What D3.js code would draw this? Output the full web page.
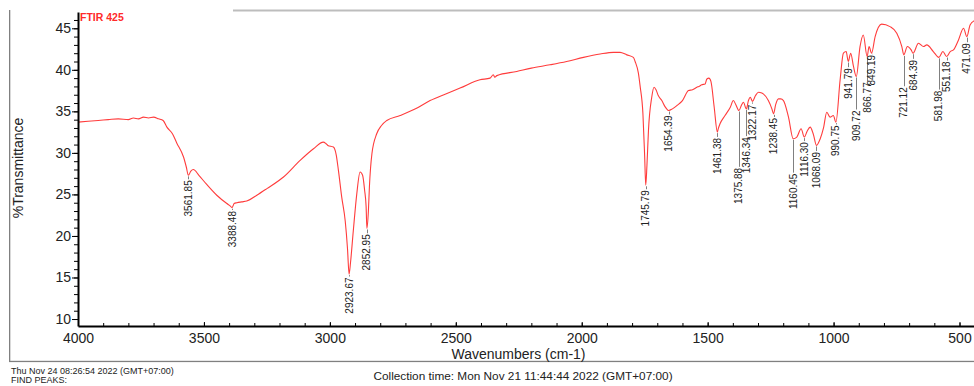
<!DOCTYPE html>
<html>
<head>
<meta charset="utf-8">
<script src="https://cdn.jsdelivr.net/npm/d3@7"></script>
<style>
  body { margin: 0; background: #fff; }
  svg { display: block; font-family: "Liberation Sans", Arial, sans-serif; }
  .axis path, .axis line { stroke: #000; }
  .axis text { fill: #222; font-size: 14px; }
  .peak-label { fill: #222; font-size: 10px; }
</style>
</head>
<body>
<div id="chart"></div>
<script>
// --- spectrum (wavenumber cm-1 / %T) ---
const wavenumbers = [
  4000, 3960, 3920, 3880, 3840, 3800, 3780, 3760, 3740, 3720, 3700, 3680, 3662, 3647, 3625, 3608,
  3581, 3570, 3561.85, 3552, 3542, 3520, 3489, 3449, 3409, 3395, 3388.48, 3380, 3369, 3350, 3330,
  3290, 3250, 3184, 3118, 3065, 3026, 3015, 3008, 2986, 2975, 2966, 2953, 2939, 2930, 2923.67, 2918,
  2907, 2893, 2880, 2870, 2862, 2856, 2852.95, 2847, 2843, 2833, 2814, 2795, 2774, 2721, 2660, 2602,
  2540, 2483, 2404, 2364, 2351, 2345, 2337, 2258, 2200, 2126, 2060, 1993, 1927, 1874, 1848, 1821,
  1795, 1788, 1775, 1768, 1757, 1750, 1745.79, 1741, 1735, 1722, 1713, 1705, 1696, 1682, 1670,
  1654.39, 1640, 1622, 1600, 1576, 1560, 1543, 1535, 1523, 1510, 1503, 1495, 1487, 1474, 1461.38,
  1458, 1451, 1431, 1410, 1398, 1388, 1375.88, 1365, 1358, 1346.34, 1338, 1331, 1322.17, 1310, 1298,
  1285, 1279, 1259, 1245, 1238.45, 1230, 1219, 1210, 1199, 1179, 1160.45, 1146, 1129, 1116.30, 1105,
  1093, 1080, 1068.09, 1053, 1040, 1027, 1014, 1001, 990.75, 974, 961, 950, 941.79, 932, 921,
  909.72, 895, 882, 866.77, 859, 849.19, 835, 809, 776, 749, 729, 721.12, 707, 692, 684.39, 663,
  643, 630, 604, 581.98, 566, 551.18, 537, 524, 504, 484, 471.09, 458, 442, 430
];
const transmittance = [
  33.7, 33.8, 33.9, 34.0, 34.1, 34.0, 34.2, 34.1, 34.3, 34.2, 34.3, 34.1, 33.9, 33.1, 32.3, 31.2,
  29.5, 28.3, 27.3, 27.8, 28.0, 27.3, 26.2, 24.9, 23.9, 23.6, 23.4, 23.9, 24.0, 24.1, 24.2,
  24.9, 25.7, 27.1, 29.1, 30.5, 31.3, 31.1, 30.9, 30.7, 29.8, 27.9, 24.7, 21.8, 18.5, 15.4, 16.8,
  20.6, 25.1, 27.7, 27.3, 25.5, 23.5, 20.9, 23.0, 25.9, 29.9, 32.3, 33.3, 33.9, 34.5, 35.3, 36.3,
  37.1, 37.8, 38.8, 39.0, 39.4, 39.1, 39.3, 39.8, 40.2, 40.6, 41.0, 41.5, 41.9, 42.1, 42.1, 41.8,
  41.5, 41.0, 39.6, 38.0, 34.7, 29.5, 26.1, 28.5, 32.7, 36.7, 37.9, 37.6, 36.9, 36.3, 35.6,
  35.1, 35.3, 35.7, 36.3, 37.5, 37.6, 37.9, 38.0, 38.2, 38.3, 38.9, 39.0, 38.6, 35.5, 32.5,
  32.9, 33.5, 34.5, 35.5, 36.3, 35.8, 35.1, 35.8, 36.1, 35.3, 36.3, 36.7, 36.2, 36.9, 37.3,
  37.2, 37.1, 36.3, 35.3, 34.7, 35.8, 36.5, 36.5, 36.3, 34.3, 31.7, 31.9, 32.9, 31.9, 32.6,
  33.1, 32.2, 30.9, 31.7, 33.0, 34.9, 34.3, 34.5, 33.7, 38.8, 42.0, 42.2, 41.0, 42.0, 40.4,
  39.2, 42.8, 44.2, 41.6, 42.8, 42.0, 44.0, 45.5, 45.2, 44.4, 42.8, 41.8, 42.8, 42.4, 42.0, 43.2,
  42.8, 43.0, 42.2, 41.5, 42.2, 41.6, 42.2, 42.4, 43.6, 45.0, 44.0, 45.4, 45.9, 46.0
];

// --- peak picks and the %T level where each label starts ---
const peakWavenumbers = [
  3561.85, 3388.48, 2923.67, 2852.95, 1745.79, 1654.39, 1461.38, 1375.88, 1346.34, 1322.17,
  1238.45, 1160.45, 1116.30, 1068.09, 990.75, 941.79, 909.72, 866.77, 849.19, 721.12, 684.39,
  581.98, 551.18, 471.09
];
const peakLabelLevels = [
  26.7, 23.0, 15.0, 20.2, 25.5, 34.5, 31.8, 28.2, 31.9, 35.8,
  34.2, 27.5, 31.3, 30.1, 33.3, 40.2, 35.1, 38.5, 41.8, 37.9, 41.2,
  37.5, 41.0, 43.2
];

// --- ticks and texts ---
const xTicks = [4000, 3500, 3000, 2500, 2000, 1500, 1000, 500];
const yTicks = [10, 15, 20, 25, 30, 35, 40, 45];
const sampleName = "FTIR 425";
const xTitle = "Wavenumbers (cm-1)";
const yTitle = "%Transmittance";
const printedOn = "Thu Nov 24 08:26:54 2022 (GMT+07:00)";
const findPeaks = "FIND PEAKS:";
const collectionTime = "Collection time: Mon Nov 21 11:44:44 2022 (GMT+07:00)";

// plot sizes
const width = 974, height = 386;
const plot = { left: 78, top: 12, bottom: 326, right: 974 };

const svg = d3.select("#chart")
  .append("svg")
  .attr("width", width)
  .attr("height", height);

// --- scales ---
const x = d3.scaleLinear()
  .domain([4000, 400])
  .range([plot.left, plot.left + 3600 * 0.25186]);

const y = d3.scaleLinear()
  .domain([9.16, 46.96])
  .range([plot.bottom, plot.top]);

// --- outer frame (report border) ---
const frame = svg.append("g").attr("class", "frame");
frame.append("rect")
  .attr("x", 9).attr("y", 10).attr("width", 1.3).attr("height", 352)
  .attr("fill", "#808080");
frame.append("rect")
  .attr("x", 9).attr("y", 360.8).attr("width", width - 9).attr("height", 1.3)
  .attr("fill", "#808080");
frame.append("line")
  .attr("x1", 233).attr("x2", width).attr("y1", 10.5).attr("y2", 10.5)
  .attr("stroke", "#bdbdbd").attr("stroke-width", 2);

// --- clip for the spectrum ---
svg.append("clipPath").attr("id", "plot-clip")
  .append("rect")
  .attr("x", plot.left).attr("y", plot.top)
  .attr("width", plot.right - plot.left).attr("height", plot.bottom - plot.top);

const data = wavenumbers.map((w, i) => ({ w: w, t: transmittance[i] }));

const line = d3.line()
  .x(d => x(d.w))
  .y(d => y(d.t))
  .curve(d3.curveMonotoneX);

svg.append("path")
  .datum(data)
  .attr("clip-path", "url(#plot-clip)")
  .attr("fill", "none")
  .attr("stroke", "#ff3c3c")
  .attr("stroke-width", 1.1)
  .attr("d", line);

// --- peak annotations ---
const interp = d3.scaleLinear()
  .domain(wavenumbers.slice().reverse())
  .range(transmittance.slice().reverse());

const peaks = peakWavenumbers.map((w, i) => ({ w: w, t: interp(w), level: peakLabelLevels[i] }));

const peakG = svg.append("g").attr("class", "peaks");

peakG.selectAll("line")
  .data(peaks)
  .enter().append("line")
  .attr("x1", d => Math.round(x(d.w)) + 0.5)
  .attr("x2", d => Math.round(x(d.w)) + 0.5)
  .attr("y1", d => y(d.t) + 1)
  .attr("y2", d => y(d.level) - 1)
  .attr("stroke", "#808080")
  .attr("stroke-width", 1);

peakG.selectAll("text")
  .data(peaks)
  .enter().append("text")
  .attr("class", "peak-label")
  .attr("text-anchor", "end")
  .attr("dy", "0.35em")
  .attr("transform", d => `translate(${x(d.w)},${y(d.level)}) rotate(-90)`)
  .text(d => d.w.toFixed(2));

// --- axes ---
// minor ticks
svg.append("g")
  .attr("class", "axis minor")
  .attr("transform", `translate(${plot.left},0)`)
  .call(d3.axisLeft(y).tickValues(d3.range(10, 47, 1)).tickSize(4).tickFormat(""))
  .call(g => g.select(".domain").remove());

svg.append("g")
  .attr("class", "axis minor")
  .attr("transform", `translate(0,${plot.bottom})`)
  .call(d3.axisBottom(x).tickValues(d3.range(500, 4000, 100)).tickSize(-3).tickFormat(""))
  .call(g => g.select(".domain").remove());

const yAxis = svg.append("g")
  .attr("class", "axis axis--y")
  .attr("transform", `translate(${plot.left},0)`)
  .call(d3.axisLeft(y).tickValues(yTicks).tickSize(6).tickSizeOuter(0).tickPadding(1));
yAxis.select(".domain").attr("stroke-width", 2);

const xAxis = svg.append("g")
  .attr("class", "axis axis--x")
  .attr("transform", `translate(0,${plot.bottom})`)
  .call(d3.axisBottom(x).tickValues(xTicks).tickFormat(d3.format("d"))
    .tickSize(-4).tickSizeOuter(0).tickPadding(7));
xAxis.select(".domain").attr("stroke-width", 2);

// --- titles ---
svg.append("text")
  .attr("x", 80).attr("y", 20.5)
  .attr("fill", "#ff2a2a")
  .style("font-size", "10.5px")
  .style("font-weight", "bold")
  .text(sampleName);

svg.append("text")
  .attr("x", (plot.left + 959) / 2).attr("y", 359)
  .attr("text-anchor", "middle")
  .attr("fill", "#222")
  .style("font-size", "14px")
  .text(xTitle);

svg.append("text")
  .attr("transform", `translate(23,168) rotate(-90)`)
  .attr("text-anchor", "middle")
  .attr("fill", "#222")
  .style("font-size", "14px")
  .text(yTitle);

// --- footer ---
svg.append("text")
  .attr("x", 11).attr("y", 374)
  .attr("fill", "#222")
  .style("font-size", "9px")
  .text(printedOn);

svg.append("text")
  .attr("x", 11).attr("y", 383)
  .attr("fill", "#222")
  .style("font-size", "9px")
  .text(findPeaks);

svg.append("text")
  .attr("x", 523).attr("y", 380)
  .attr("text-anchor", "middle")
  .attr("fill", "#222")
  .style("font-size", "11.8px")
  .text(collectionTime);
</script>
</body>
</html>
